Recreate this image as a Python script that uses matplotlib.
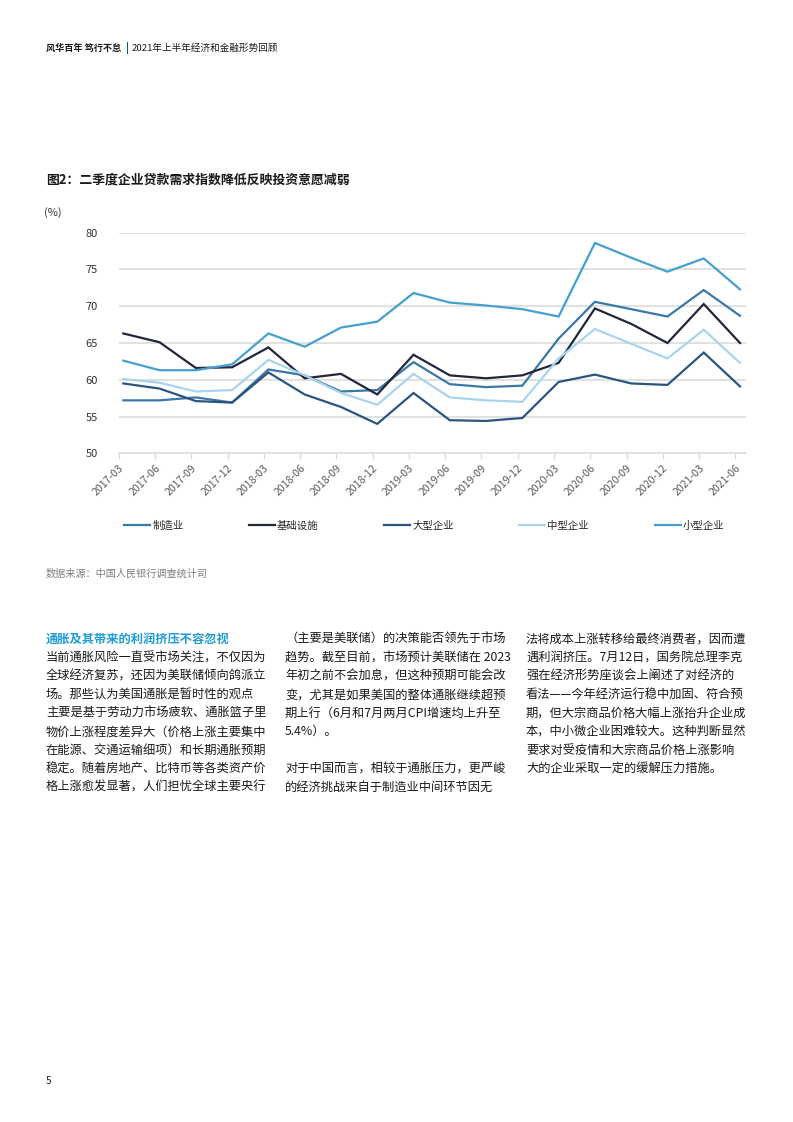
import numpy as np
import matplotlib
matplotlib.use("Agg")
import matplotlib.pyplot as plt

plt.rcParams['font.family'] = ['Noto Sans CJK SC', 'DejaVu Sans']

# ---------------- data ----------------
quarters = ["2017-03", "2017-06", "2017-09", "2017-12", "2018-03", "2018-06",
            "2018-09", "2018-12", "2019-03", "2019-06", "2019-09", "2019-12",
            "2020-03", "2020-06", "2020-09", "2020-12", "2021-03", "2021-06"]
manufacturing = [57.2, 57.2, 57.6, 56.9, 61.4, 60.6, 58.4, 58.6, 62.4, 59.4, 59.0, 59.2,
                 65.6, 70.6, 69.6, 68.6, 72.2, 68.7]
infrastructure = [66.3, 65.1, 61.6, 61.7, 64.4, 60.2, 60.8, 58.0, 63.4, 60.6, 60.2, 60.6,
                  62.3, 69.7, 67.6, 65.0, 70.3, 65.0]
large_ent = [59.5, 58.8, 57.1, 56.9, 61.0, 58.0, 56.3, 54.0, 58.2, 54.5, 54.4, 54.8,
             59.7, 60.7, 59.5, 59.3, 63.7, 59.1]
medium_ent = [60.1, 59.6, 58.4, 58.6, 62.7, 60.6, 58.2, 56.6, 60.8, 57.6, 57.2, 57.0,
              62.9, 66.9, 64.9, 62.9, 66.8, 62.3]
small_ent = [62.6, 61.3, 61.3, 62.1, 66.3, 64.5, 67.1, 67.9, 71.8, 70.5, 70.1, 69.6,
             68.6, 78.6, 76.6, 74.7, 76.5, 72.3]
series_names = ["制造业", "基础设施", "大型企业", "中型企业", "小型企业"]
series_values = [manufacturing, infrastructure, large_ent, medium_ent, small_ent]
series_colors = ["#3A78A8", "#22263A", "#2B5580", "#A9D4EE", "#45A0D0"]
y_ticks = [50, 55, 60, 65, 70, 75, 80]

W, H = 793, 1122
fig = plt.figure(figsize=(W / 100, H / 100), dpi=100)
fig.patch.set_facecolor("white")


def fx(px):
    return px / W


def fy(py):
    return 1 - py / H


# ---------------- header ----------------
fig.text(fx(46), fy(48), "风华百年 笃行不怠", fontsize=6.6, fontweight="bold",
         color="#1a1a1a", va="center", ha="left")
fig.text(fx(126), fy(48), "|", fontsize=7.5, fontweight="bold",
         color="#1f4e79", va="center", ha="left")
fig.text(fx(132), fy(48), "2021年上半年经济和金融形势回顾", fontsize=6.9,
         color="#1a1a1a", va="center", ha="left")

# ---------------- title ----------------
fig.text(fx(46), fy(180), "图2：二季度企业贷款需求指数降低反映投资意愿减弱", fontsize=9.3,
         fontweight="bold", color="#1a1a1a", va="center", ha="left")
fig.text(fx(44), fy(213), "(%)", fontsize=8, color="#333333", va="center", ha="left")

# ---------------- chart ----------------
left, right, top, bottom = 118.7, 745.7, 232.7, 453.3
ax = fig.add_axes([fx(left), fy(bottom), (right - left) / W, (bottom - top) / H])
x = np.arange(len(quarters))
lines = []
for name, vals, col in zip(series_names, series_values, series_colors):
    ln, = ax.plot(x, vals, color=col, lw=1.6, label=name, solid_joinstyle="miter")
    lines.append(ln)

ax.set_xlim(-0.127, len(quarters) - 1 + 0.157)
ax.set_ylim(50, 80)
ax.set_yticks(y_ticks)
ax.set_yticklabels([str(v) for v in y_ticks])
for v in y_ticks[1:]:
    ax.axhline(v, color="#d9d9d9", lw=1.1, zorder=0)
for s in ["top", "right", "left"]:
    ax.spines[s].set_visible(False)
ax.spines["bottom"].set_color("#d9d9d9")
ax.spines["bottom"].set_linewidth(1.1)
ax.tick_params(axis="y", length=0, pad=15, labelsize=8, labelcolor="#333333")
ax.set_xticks(x - 0.127)
ax.set_xticklabels(quarters, rotation=45, ha="right", va="top",
                   rotation_mode="anchor", fontsize=7.6, color="#595959")
ax.tick_params(axis="x", length=4, width=1, color="#d9d9d9", pad=3)

fig.legend(handles=lines, labels=series_names, loc="center left",
           bbox_to_anchor=(fx(124), fy(526)), ncol=5, frameon=False,
           handlelength=2.5, handletextpad=0.2, columnspacing=6.3,
           borderpad=0, borderaxespad=0, fontsize=7.5, labelcolor="#262626")

fig.text(fx(46), fy(574), "数据来源：中国人民银行调查统计司", fontsize=7.3,
         color="#7f7f7f", va="center", ha="left")

# ---------------- body text ----------------
col1 = ["当前通胀风险一直受市场关注，不仅因为",
        "全球经济复苏，还因为美联储倾向鸽派立",
        "场。那些认为美国通胀是暂时性的观点",
        "主要是基于劳动力市场疲软、通胀篮子里",
        "物价上涨程度差异大（价格上涨主要集中",
        "在能源、交通运输细项）和长期通胀预期",
        "稳定。随着房地产、比特币等各类资产价",
        "格上涨愈发显著，人们担忧全球主要央行"]
col2 = ["（主要是美联储）的决策能否领先于市场",
        "趋势。截至目前，市场预计美联储在 2023",
        "年初之前不会加息，但这种预期可能会改",
        "变，尤其是如果美国的整体通胀继续超预",
        "期上行（6月和7月两月CPI增速均上升至",
        "5.4%）。",
        "",
        "对于中国而言，相较于通胀压力，更严峻",
        "的经济挑战来自于制造业中间环节因无"]
col3 = ["法将成本上涨转移给最终消费者，因而遭",
        "遇利润挤压。7月12日，国务院总理李克",
        "强在经济形势座谈会上阐述了对经济的",
        "看法——今年经济运行稳中加固、符合预",
        "期，但大宗商品价格大幅上涨抬升企业成",
        "本，中小微企业困难较大。这种判断显然",
        "要求对受疫情和大宗商品价格上涨影响",
        "大的企业采取一定的缓解压力措施。"]

y0, dy = 639.5, 18.45
fs_body = 8.8
fig.text(fx(46), fy(y0), "通胀及其带来的利润挤压不容忽视", fontsize=fs_body,
         fontweight="bold", color="#1f9bd6", va="center", ha="left")
for i, t in enumerate(col1):
    fig.text(fx(46), fy(y0 + dy * (i + 1)), t, fontsize=fs_body, color="#1a1a1a",
             va="center", ha="left")
for i, t in enumerate(col2):
    if t:
        fig.text(fx(285), fy(y0 + dy * i), t, fontsize=fs_body, color="#1a1a1a",
                 va="center", ha="left")
for i, t in enumerate(col3):
    fig.text(fx(526), fy(y0 + dy * i), t, fontsize=fs_body, color="#1a1a1a",
             va="center", ha="left")

fig.text(fx(46), fy(1081), "5", fontsize=7, color="#1a1a1a", va="center", ha="left")

fig.savefig("out.png", dpi=100, facecolor="white")
